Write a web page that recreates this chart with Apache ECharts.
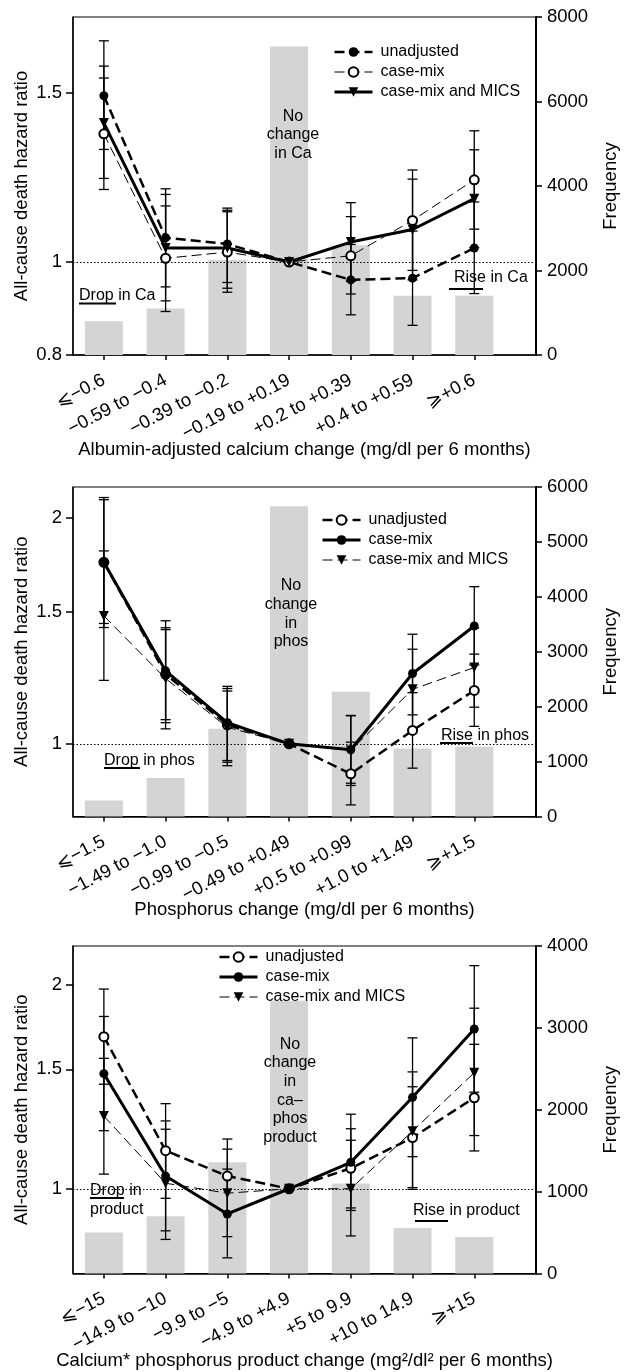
<!DOCTYPE html>
<html>
<head>
<meta charset="utf-8">
<title>Mineral change and all-cause death hazard</title>
<script src="https://cdn.jsdelivr.net/npm/echarts@6/dist/echarts.min.js"></script>
<style>
    html, body { margin: 0; padding: 0; background: #fff; }
    #chart { width: 628px; height: 1372px; }
</style>
</head>
<body>
<div id="chart"></div>
<script>
const font = "'Liberation Sans', Arial, Helvetica, sans-serif";
const ink = "#000";
const barGrey = "#d4d4d4";

// ---- panel 1: albumin-adjusted calcium ----
const caCategories = ["⩽−0.6", "−0.59 to −0.4", "−0.39 to −0.2", "−0.19 to +0.19", "+0.2 to +0.39", "+0.4 to +0.59", "⩾+0.6"];
const caFrequency = [800, 1100, 2250, 7300, 2600, 1400, 1400];
const caUnadj = [1.49, 1.06, 1.044, 1, 0.958, 0.962, 1.034];
const caUnadjLo = [1.31, 0.942, 0.952, null, 0.881, 0.859, 0.927];
const caUnadjHi = [1.70, 1.192, 1.138, null, 1.043, 1.077, 1.155];
const caMix = [1.36, 1.009, 1.024, 1, 1.015, 1.105, 1.218];
const caMixLo = [1.19, 0.888, 0.93, null, 0.926, 0.98, 1.082];
const caMixHi = [1.555, 1.144, 1.128, null, 1.115, 1.247, 1.37];
const caMics = [1.396, 1.034, 1.034, 1, 1.049, 1.081, 1.164];
const caMicsLo = [1.222, 0.911, 0.939, null, 0.955, 0.958, 1.035];
const caMicsHi = [1.60, 1.176, 1.132, null, 1.153, 1.22, 1.309];

// ---- panel 2: phosphorus ----
const phCategories = ["⩽−1.5", "−1.49 to −1.0", "−0.99 to −0.5", "−0.49 to +0.49", "+0.5 to +0.99", "+1.0 to +1.49", "⩾+1.5"];
const phFrequency = [290, 700, 1600, 5650, 2270, 1240, 1270];
const phUnadj = [1.746, 1.238, 1.06, 1, 0.912, 1.042, 1.178];
const phUnadjLo = [1.429, 1.067, 0.945, null, 0.829, 0.928, 1.055];
const phUnadjHi = [2.13, 1.428, 1.185, null, 1.005, 1.17, 1.317];
const phMix = [1.746, 1.251, 1.067, 1, 0.982, 1.241, 1.436];
const phMixLo = [1.447, 1.077, 0.95, null, 0.886, 1.093, 1.274];
const phMixHi = [2.116, 1.459, 1.193, null, 1.091, 1.40, 1.62];
const phMics = [1.481, 1.222, 1.052, 1, 0.98, 1.182, 1.264];
const phMicsLo = [1.215, 1.047, 0.935, null, 0.88, 1.045, 1.119];
const phMicsHi = [1.808, 1.42, 1.176, null, 1.09, 1.337, 1.427];

// ---- panel 3: calcium x phosphorus product ----
const prCategories = ["⩽−15", "−14.9 to −10", "−9.9 to −5", "−4.9 to +4.9", "+5 to 9.9", "+10 to 14.9", "⩾+15"];
const prFrequency = [500, 700, 1360, 3330, 1100, 555, 445];
const prUnadj = [1.676, 1.138, 1.044, 1, 1.072, 1.19, 1.362];
const prUnadjLo = [1.426, 0.968, 0.921, null, 0.937, 1.004, 1.137];
const prUnadjHi = [1.97, 1.335, 1.184, null, 1.226, 1.414, 1.633];
const prMix = [1.478, 1.044, 0.918, 1, 1.094, 1.364, 1.72];
const prMixLo = [1.218, 0.867, 0.791, null, 0.929, 1.115, 1.388];
const prMixHi = [1.795, 1.259, 1.069, null, 1.288, 1.669, 2.133];
const prMics = [1.28, 1.019, 0.985, 1, 1.0, 1.216, 1.483];
const prMicsLo = [1.051, 0.842, 0.85, null, 0.852, 0.998, 1.198];
const prMicsHi = [1.557, 1.224, 1.144, null, 1.179, 1.487, 1.846];

const xTicks = [0, 1, 2, 3, 4, 5, 6];
const hrTicksCa = [0.8, 1, 1.5];
const hrTicksPhos = [1, 1.5, 2];
const hrTicksProd = [1, 1.5, 2];

const lineLooks = {
    boldDash: { width: 2.5, type: [10, 5] },
    thinDash: { width: 1, type: [10, 5] },
    boldSolid: { width: 3, type: "solid" },
};
const markerLooks = {
    dot: { symbol: "circle", symbolSize: 9, symbolRotate: 0 },
    ring: { symbol: "emptyCircle", symbolSize: 9, symbolRotate: 0 },
    tri: { symbol: "triangle", symbolSize: 10, symbolRotate: 180 },
};

const panels = [
    {
        top: 17, height: 338,
        categories: caCategories, frequency: caFrequency,
        freqMax: 8000, freqStep: 2000,
        hrMin: 0.8, hrMax: 1.8, hrTicks: hrTicksCa,
        title: "Albumin-adjusted calcium change (mg/dl per 6 months)", titleGap: 85,
        legendLeft: 333, legendTop: 44,
        lines: [
            { name: "unadjusted", hr: caUnadj, lo: caUnadjLo, hi: caUnadjHi, line: "boldDash", marker: "dot" },
            { name: "case-mix", hr: caMix, lo: caMixLo, hi: caMixHi, line: "thinDash", marker: "ring" },
            { name: "case-mix and MICS", hr: caMics, lo: caMicsLo, hi: caMicsHi, line: "boldSolid", marker: "tri" },
        ],
    },
    {
        top: 487, height: 329.5,
        categories: phCategories, frequency: phFrequency,
        freqMax: 6000, freqStep: 1000,
        hrMin: 0.8, hrMax: 2.2, hrTicks: hrTicksPhos,
        title: "Phosphorus change (mg/dl per 6 months)", titleGap: 84,
        legendLeft: 321, legendTop: 512,
        lines: [
            { name: "unadjusted", hr: phUnadj, lo: phUnadjLo, hi: phUnadjHi, line: "boldDash", marker: "ring" },
            { name: "case-mix", hr: phMix, lo: phMixLo, hi: phMixHi, line: "boldSolid", marker: "dot" },
            { name: "case-mix and MICS", hr: phMics, lo: phMicsLo, hi: phMicsHi, line: "thinDash", marker: "tri" },
        ],
    },
    {
        top: 946, height: 327.5,
        categories: prCategories, frequency: prFrequency,
        freqMax: 4000, freqStep: 1000,
        hrMin: 0.75, hrMax: 2.28, hrTicks: hrTicksProd,
        title: "Calcium* phosphorus product change (mg²/dl² per 6 months)", titleGap: 78,
        legendLeft: 218, legendTop: 949,
        lines: [
            { name: "unadjusted", hr: prUnadj, lo: prUnadjLo, hi: prUnadjHi, line: "boldDash", marker: "ring" },
            { name: "case-mix", hr: prMix, lo: prMixLo, hi: prMixHi, line: "boldSolid", marker: "dot" },
            { name: "case-mix and MICS", hr: prMics, lo: prMicsLo, hi: prMicsHi, line: "thinDash", marker: "tri" },
        ],
    },
];

// text placed on the plots: [x, y, text, align]
const notes = [
    [293, 135, "No\nchange\nin Ca", "center"],
    [79, 296, "Drop in Ca", "left"],
    [454, 278, "Rise in Ca", "left"],
    [291, 614, "No\nchange\nin\nphos", "center"],
    [104, 761, "Drop in phos", "left"],
    [441, 736, "Rise in phos", "left"],
    [290, 1091, "No\nchange\nin\nca–\nphos\nproduct", "center"],
    [90, 1200, "Drop in\nproduct", "left"],
    [413, 1211, "Rise in product", "left"],
];
// underlines under "Drop" / "Rise": [x1, x2, y]
const underlines = [
    [79, 116, 303.5], [449, 483, 289],
    [104, 140, 768], [440, 473, 743],
    [90, 124, 1198], [415, 448, 1221],
];

const errorBars = (params, api) => {
    const x = api.value(0);
    const lo = api.coord([x, api.value(1)]);
    const hi = api.coord([x, api.value(2)]);
    const cap = 5;
    const style = { stroke: ink, lineWidth: 1.3 };
    return {
        type: "group",
        children: [
            { type: "line", shape: { x1: lo[0], y1: lo[1], x2: hi[0], y2: hi[1] }, style },
            { type: "line", shape: { x1: lo[0] - cap, y1: lo[1], x2: lo[0] + cap, y2: lo[1] }, style },
            { type: "line", shape: { x1: hi[0] - cap, y1: hi[1], x2: hi[0] + cap, y2: hi[1] }, style },
        ],
    };
};

const axisText = { fontSize: 18.5, color: ink, fontFamily: font };
const axisStroke = { color: ink, width: 1.5 };

const option = {
    animation: false,
    backgroundColor: "#fff",
    textStyle: { fontFamily: font, color: ink },
    grid: [],
    xAxis: [],
    yAxis: [],
    legend: [],
    series: [],
    graphic: [],
};

panels.forEach((p, k) => {
    const base = k * 3;
    option.grid.push({
        left: 73, right: 82, top: p.top, height: p.height,
        show: true, borderColor: ink, borderWidth: 1, backgroundColor: "transparent",
    });
    option.xAxis.push({
        type: "value", gridIndex: k, min: -0.5, max: 7,
        name: p.title, nameLocation: "middle", nameGap: p.titleGap, nameMoveOverlap: false,
        nameTextStyle: axisText,
        axisLine: { onZero: false, lineStyle: axisStroke },
        axisTick: { customValues: xTicks, length: 5, lineStyle: axisStroke },
        axisLabel: {
            customValues: xTicks,
            formatter: (v) => p.categories[Math.round(v)],
            rotate: 28, margin: 24, ...axisText,
        },
        splitLine: { show: false },
    });
    const logTicks = p.hrTicks.map((t) => Math.log10(t));
    option.yAxis.push(
        {
            type: "log", logBase: 10, gridIndex: k, position: "left",
            min: p.hrMin, max: p.hrMax,
            axisLine: { show: true, onZero: false, lineStyle: axisStroke },
            axisTick: { show: false }, axisLabel: { show: false }, splitLine: { show: false },
        },
        {
            // label-only axis in log10 units, same span as the log axis above
            type: "value", gridIndex: k, position: "left",
            min: Math.log10(p.hrMin), max: Math.log10(p.hrMax),
            name: "All-cause death hazard ratio", nameLocation: "middle", nameGap: 42,
            nameMoveOverlap: false, nameTextStyle: axisText,
            axisLine: { show: false, onZero: false },
            axisTick: { show: true, customValues: logTicks, length: 7, lineStyle: axisStroke },
            axisLabel: {
                customValues: logTicks,
                formatter: (v) => String(+Math.pow(10, v).toFixed(2)),
                margin: 11, ...axisText,
            },
            splitLine: { show: false },
        },
        {
            type: "value", gridIndex: k, position: "right",
            min: 0, max: p.freqMax, interval: p.freqStep,
            name: "Frequency", nameLocation: "middle", nameGap: 65,
            nameMoveOverlap: false, nameTextStyle: axisText,
            axisLine: { show: true, onZero: false, lineStyle: { color: ink, width: 2 } },
            axisTick: { show: true, length: 6, lineStyle: axisStroke },
            axisLabel: { margin: 11, formatter: (v) => String(v), ...axisText },
            splitLine: { show: false },
        }
    );

    option.series.push({
        type: "bar", name: "frequency#" + k, xAxisIndex: k, yAxisIndex: base + 2,
        data: p.frequency.map((f, i) => [i, f]),
        barWidth: 38, itemStyle: { color: barGrey }, z: 1, silent: true,
    });

    p.lines.forEach((ln, j) => {
        const mk = markerLooks[ln.marker];
        option.series.push({
            type: "line", name: ln.name + "#" + k, xAxisIndex: k, yAxisIndex: base,
            data: ln.hr.map((v, i) => [i, v]),
            symbol: mk.symbol, symbolSize: mk.symbolSize, symbolRotate: mk.symbolRotate,
            showAllSymbol: true,
            lineStyle: { color: ink, ...lineLooks[ln.line] },
            itemStyle: { color: ink },
            z: 4,
            markLine: j === 0 ? {
                silent: true, symbol: "none", label: { show: false },
                lineStyle: { color: ink, type: [1.5, 2], width: 1 },
                data: [{ yAxis: 1 }],
            } : undefined,
        });
    });
    p.lines.forEach((ln, j) => {
        option.series.push({
            type: "custom", name: "ci#" + k + "#" + j, xAxisIndex: k, yAxisIndex: base,
            renderItem: errorBars,
            encode: { x: 0, y: [1, 2] },
            data: ln.lo.map((l, i) => [i, l, ln.hi[i]]).filter((d) => d[1] != null),
            z: 3, silent: true,
        });
    });

    option.legend.push({
        orient: "vertical", left: p.legendLeft, top: p.legendTop, padding: 0,
        itemWidth: 38, itemHeight: 12, itemGap: 4, selectedMode: false,
        data: p.lines.map((ln) => ({
            name: ln.name + "#" + k,
            lineStyle: { width: lineLooks[ln.line].width, type: lineLooks[ln.line].type },
        })),
        formatter: (n) => n.split("#")[0],
        textStyle: { fontSize: 16, color: ink, fontFamily: font, padding: [0, 0, 0, 3] },
    });
});

notes.forEach(([x, y, text, align]) => {
    option.graphic.push({
        type: "text", x, y, z: 10,
        style: { text, fill: ink, font: "16px " + font, align, verticalAlign: "middle", lineHeight: 18.7 },
    });
});
underlines.forEach(([x1, x2, y]) => {
    option.graphic.push({
        type: "line", z: 10,
        shape: { x1, y1: y, x2, y2: y },
        style: { stroke: ink, lineWidth: 2 },
    });
});

const chart = echarts.init(document.getElementById("chart"), null, { renderer: "canvas" });
chart.setOption(option);
</script>
</body>
</html>
